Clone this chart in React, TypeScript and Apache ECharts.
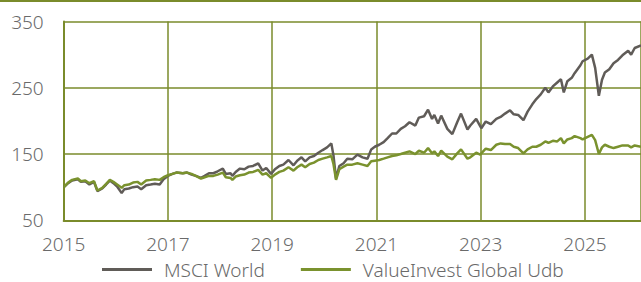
import React, { useEffect, useRef } from "react";
import * as echarts from "echarts";

const dates = [
  "2015-01-02","2015-02-01","2015-03-01","2015-04-10","2015-05-01","2015-06-01","2015-06-30","2015-08-01","2015-08-25","2015-09-28","2015-10-25","2015-11-20","2015-12-15",
  "2016-01-10","2016-02-11","2016-03-01","2016-04-01","2016-05-01","2016-06-01","2016-06-27","2016-08-01","2016-09-01","2016-10-01","2016-11-04","2016-12-01",
  "2017-01-01","2017-02-01","2017-03-01","2017-04-15","2017-05-15","2017-06-15","2017-07-15","2017-08-20","2017-09-15","2017-10-15","2017-11-15","2017-12-15",
  "2018-01-20","2018-02-10","2018-03-15","2018-03-28","2018-04-20","2018-05-20","2018-06-20","2018-07-20","2018-08-20","2018-09-25","2018-10-25","2018-11-20","2018-12-24",
  "2019-01-20","2019-02-20","2019-03-20","2019-04-25","2019-05-30","2019-06-25","2019-07-25","2019-08-20","2019-09-20","2019-10-20","2019-11-20","2019-12-20",
  "2020-01-20","2020-02-19","2020-03-05","2020-03-23","2020-04-15","2020-05-15","2020-06-10","2020-07-15","2020-08-20","2020-09-25","2020-10-30","2020-11-25","2020-12-20",
  "2021-01-20","2021-02-20","2021-03-20","2021-04-20","2021-05-20","2021-06-20","2021-07-20","2021-08-20","2021-09-30","2021-10-25","2021-11-30","2021-12-28",
  "2022-01-25","2022-02-10","2022-03-08","2022-03-30","2022-05-12","2022-06-16","2022-07-20","2022-08-16","2022-09-30","2022-10-20","2022-11-30","2022-12-28",
  "2023-01-05","2023-02-05","2023-03-13","2023-04-20","2023-05-20","2023-06-20","2023-07-25","2023-08-20","2023-09-20","2023-10-27","2023-11-25","2023-12-28",
  "2024-01-25","2024-02-25","2024-03-28","2024-04-19","2024-05-20","2024-06-20","2024-07-16","2024-08-05","2024-08-30","2024-09-30","2024-10-20","2024-11-30","2024-12-15",
  "2025-01-20","2025-02-18","2025-03-13","2025-04-08","2025-04-30","2025-05-20","2025-06-20","2025-07-20","2025-08-20","2025-09-20","2025-10-30","2025-11-20","2025-12-15",
  "2026-01-28",
];

const msciWorld = [
  100,106,110,112,108,109,104,108,94,98,104,110,106,
  101,91,97,98,100,101,97,103,104,105,104,112,
  117,120,122,121,122,119,117,114,117,121,121,124,
  128,120,121,117,123,128,127,131,132,136,125,129,120,
  127,132,134,141,133,140,145,139,145,147,152,156,
  160,166,148,113,132,136,143,142,149,145,143,157,161,
  164,168,174,181,181,188,192,198,193,205,207,217,
  203,209,196,208,188,180,198,211,187,193,203,192,
  189,199,195,203,206,211,216,210,209,201,214,225,
  233,240,250,243,252,258,263,243,260,265,272,284,290,
  294,300,280,238,262,273,278,287,292,299,306,300,310,
  314,
];

const valueInvest = [
  100,107,111,113,109,110,106,109,95,99,105,111,108,
  104,99,103,104,107,108,104,110,111,112,111,115,
  118,120,122,121,122,120,117,113,115,117,117,119,
  122,115,114,111,116,118,119,122,123,126,119,121,114,
  119,123,125,130,125,130,134,130,135,137,141,143,
  145,147,135,111,127,131,134,134,136,134,132,139,140,
  141,143,145,147,148,150,152,154,150,155,152,159,
  151,154,147,155,146,142,151,157,143,145,152,149,
  151,158,156,164,166,165,165,161,159,151,157,161,
  161,164,169,167,170,169,174,166,172,174,177,174,172,
  176,179,171,150,160,164,161,159,161,163,163,160,163,
  161,
];

const seriesNames = ["MSCI World", "ValueInvest Global Udb"];
const yTicks = { min: 50, max: 350, interval: 100 };

function toYear(s: string): number {
  const [y, m, d] = s.split("-").map(Number);
  const t = Date.UTC(y, m - 1, d);
  const a = Date.UTC(y, 0, 1);
  const b = Date.UTC(y + 1, 0, 1);
  return y + (t - a) / (b - a);
}

const OLIVE = "#7A8B2B";
const GRAY_TEXT = "#6A6A6A";
const FONT = "Noto Sans";

export default function App() {
  const ref = useRef<HTMLDivElement>(null);
  useEffect(() => {
    document.body.style.margin = "0";
    if (!ref.current) return;
    const chart = echarts.init(ref.current, undefined, { renderer: "svg" });
    const xs = dates.map(toYear);
    chart.setOption({
      animation: false,
      textStyle: { fontFamily: FONT },
      graphic: [
        { type: "rect", left: 0, top: 0, shape: { width: 641, height: 2 }, style: { fill: OLIVE } },
      ],
      grid: { left: 63.7, right: 0, top: 21.5, bottom: 61.7 },
      legend: {
        left: 102,
        top: 260,
        padding: 0,
        itemWidth: 50,
        itemHeight: 3,
        itemGap: 36,
        icon: "rect",
        textStyle: {
          fontSize: 19,
          lineHeight: 18,
          fontWeight: 300,
          color: GRAY_TEXT,
          fontFamily: FONT,
          padding: [0, 0, 0, 7],
        },
        data: seriesNames,
      },
      xAxis: {
        type: "value",
        min: 2015,
        max: 2026.074,
        interval: 2,
        axisLine: { show: true, lineStyle: { color: OLIVE, width: 2 } },
        axisTick: { show: false },
        splitLine: { show: true, lineStyle: { color: OLIVE, width: 1.5 } },
        axisLabel: {
          showMaxLabel: false,
          margin: 15,
          fontSize: 19,
          lineHeight: 18,
          fontWeight: 300,
          color: GRAY_TEXT,
          fontFamily: FONT,
          formatter: (v: number) => String(Math.round(v)),
        },
      },
      yAxis: {
        type: "value",
        min: yTicks.min,
        max: yTicks.max,
        interval: yTicks.interval,
        axisLine: { show: true, lineStyle: { color: OLIVE, width: 2 } },
        axisTick: { show: false },
        splitLine: { show: true, lineStyle: { color: OLIVE, width: 1.5 } },
        axisLabel: { margin: 20, fontSize: 19, fontWeight: 300, color: GRAY_TEXT, fontFamily: FONT },
      },
      series: [
        {
          name: seriesNames[0],
          type: "line",
          showSymbol: false,
          color: "#605C58",
          lineStyle: { width: 2.5, color: "#605C58" },
          data: xs.map((x, i) => [x, msciWorld[i]]),
        },
        {
          name: seriesNames[1],
          type: "line",
          showSymbol: false,
          color: "#7A922E",
          lineStyle: { width: 2.5, color: "#7A922E" },
          data: xs.map((x, i) => [x, valueInvest[i]]),
        },
      ],
    });
    return () => chart.dispose();
  }, []);
  return <div ref={ref} style={{ width: 641, height: 282 }} />;
}
